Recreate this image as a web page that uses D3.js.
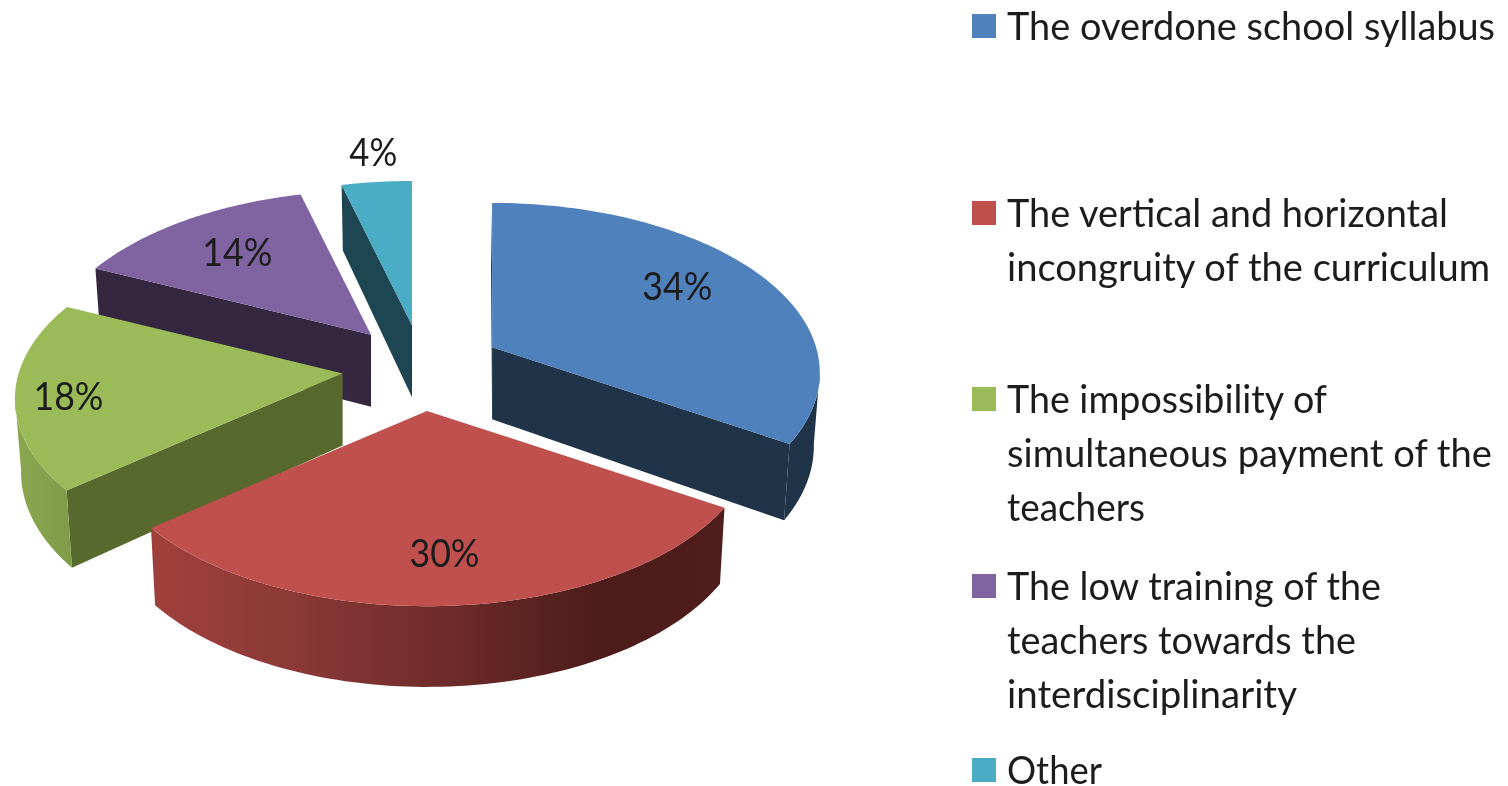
<!DOCTYPE html>
<html><head><meta charset="utf-8">
<script src="https://d3js.org/d3.v7.min.js"></script>
<style>html,body{margin:0;padding:0;background:#fff;overflow:hidden}svg{display:block;filter:blur(.6px)}text{font-family:Lato,"Open Sans",sans-serif;fill:#1c1c1c}</style>
</head><body><svg id="c" width="1508" height="786"></svg>
<script>
// data
const categories = ["The overdone school syllabus","The vertical and horizontal incongruity of the curriculum","The impossibility of simultaneous payment of the teachers","The low training of the teachers towards the interdisciplinarity","Other"];
const values = [34,30,18,14,4];
// legend line breaks, as wrapped in the picture
const legendLines = [["The overdone school syllabus"],["The vertical and horizontal","incongruity of the curriculum"],["The impossibility of","simultaneous payment of the","teachers"],["The low training of the","teachers towards the","interdisciplinarity"],["Other"]];
// styles
const topColors = ["#4f81bd","#c0504d","#9bbb59","#8064a2","#4bacc6"];
const faceColors = ["#1f3349","#4f1d1b","#58692e","#35273f","#1d4552"];
const wallColors = ["#1f3349","url(#redWall)","url(#greenWall)","#35273f","#1d4552"];
const labelFrac = [.72,.76,.84,.7,1.25];
const labelTurn = [-4,0,-2,0,.7];
// layout
const cx=422, cy=368, ex=80, ey=43, R=324, Rk=166, persp=.15, D=72;
const svg=d3.select("#c");
const defs=svg.append("defs");
const g1=defs.append("linearGradient").attr("id","redWall").attr("gradientUnits","userSpaceOnUse").attr("x1",155).attr("x2",724).attr("y1",0).attr("y2",0);
[[0,"#a0403d"],[.25,"#8a3936"],[.5,"#6f2c2a"],[.78,"#4d1c1a"],[1,"#4f1e1c"]].forEach(s=>g1.append("stop").attr("offset",s[0]).attr("stop-color",s[1]));
const g2=defs.append("linearGradient").attr("id","greenWall").attr("gradientUnits","userSpaceOnUse").attr("x1",13).attr("x2",73).attr("y1",0).attr("y2",0);
[[0,"#8aa850"],[1,"#7f9b48"]].forEach(s=>g2.append("stop").attr("offset",s[0]).attr("stop-color",s[1]));

const arcs=d3.pie().sort(null).startAngle(0).endAngle(2*Math.PI)(values);
const pathOf=d3.line();
const persScale=Y=>1/(1-persp*Y);
function apex(d){const m=(d.startAngle+d.endAngle)/2;return [cx+ex*Math.sin(m),cy-ey*Math.cos(m)];}
function topPt(d,t,f=1){const A=apex(d),Y=-Math.cos(t)*f,s=persScale(Y);return [A[0]+R*Math.sin(t)*f*s,A[1]+Rk*Y*s];}
function drop(p,Y){const s=Math.pow(persScale(Y),.7);return [cx+(p[0]-cx)*.985,p[1]+D*s];}
function bottomOuter(d,t){return drop(topPt(d,t),-Math.cos(t));}
function bottomApex(d){const A=apex(d);return [A[0],A[1]+D];}
function angles(t0,t1,n=80){return d3.range(n+1).map(i=>t0+(t1-t0)*i/n);}

const order=[4,3,0,2,1];
const faceSide=["both","none","start","start","start"];
const wallL=Math.PI/180*262, wallR=Math.PI/180*98;
order.forEach(i=>{
  const d=arcs[i], g=svg.append("g");
  const A=apex(d), BA=bottomApex(d);
  const face=t=>[A,topPt(d,t),bottomOuter(d,t),BA];
  if(faceSide[i]!=="none") g.append("path").attr("d",pathOf(face(d.startAngle))+"Z").attr("fill",faceColors[i]);
  if(faceSide[i]==="both") g.append("path").attr("d",pathOf(face(d.endAngle))+"Z").attr("fill",faceColors[i]);
  const t0=Math.max(d.startAngle,wallR), t1=Math.min(d.endAngle,wallL);
  if(t1>t0){
    const ts=angles(t0,t1);
    const pts=ts.map(t=>topPt(d,t)).concat(ts.slice().reverse().map(t=>bottomOuter(d,t)));
    g.append("path").attr("d",pathOf(pts)+"Z").attr("fill",wallColors[i]);
  }
  const ts=angles(d.startAngle,d.endAngle);
  g.append("path").attr("d",pathOf([A].concat(ts.map(t=>topPt(d,t))))+"Z").attr("fill",topColors[i]);
});
// data labels
const labelPos=(d,i)=>topPt(d,(d.startAngle+d.endAngle)/2+labelTurn[i]*Math.PI/180,labelFrac[i]);
svg.append("g").selectAll("text").data(arcs).join("text")
  .attr("x",(d,i)=>labelPos(d,i)[0])
  .attr("y",(d,i)=>labelPos(d,i)[1]+14)
  .attr("text-anchor","middle").attr("font-size",38)
  .attr("textLength",d=>d.value<10?48:70).attr("lengthAdjust","spacingAndGlyphs").text(d=>d.value+"%");
// legend
const legendFirstBaseline=[40,227,413,600,784], lineH=54, swatch=24, lx=972, tx=1007;
const targetRight={ "The overdone school syllabus":1495,"The vertical and horizontal":1448,"incongruity of the curriculum":1490,"The impossibility of":1327,"simultaneous payment of the":1492,"teachers":1145,"The low training of the":1381,"teachers towards the":1356,"interdisciplinarity":1297,"Other":1102};
const leg=svg.append("g");
categories.forEach((c,i)=>{
  leg.append("rect").attr("x",lx).attr("y",legendFirstBaseline[i]-26).attr("width",swatch).attr("height",swatch).attr("fill",topColors[i]);
  legendLines[i].forEach((l,j)=>{
    leg.append("text").attr("x",tx).attr("y",legendFirstBaseline[i]+j*lineH).attr("font-size",38)
      .attr("textLength",targetRight[l]-tx).attr("lengthAdjust","spacingAndGlyphs").text(l);
  });
});
</script></body></html>
